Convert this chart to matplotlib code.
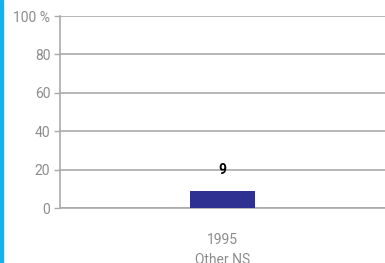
import matplotlib
matplotlib.use("Agg")
import matplotlib.pyplot as plt
from matplotlib.patches import Rectangle

categories = ["1995\nOther NS"]
values = [9]
yticks = [0, 20, 40, 60, 80, 100]
ytick_labels = ["0", "20", "40", "60", "80", "100 %"]

plt.rcParams['font.family'] = ['Liberation Sans Narrow', 'Roboto', 'DejaVu Sans']

grey = "#8c8c8c"
line_grey = "#aaaaaa"

fig = plt.figure(figsize=(3.85, 2.63), dpi=100)
fig.patches.append(Rectangle((0, 0), 3/385, 1, transform=fig.transFigure,
                             color="#12b2ef", zorder=0))
ax = fig.add_axes([60/385, 1 - 208/263, 1 - 60/385, 192/263])

x = list(range(len(categories)))
bars = ax.bar(x, values, width=0.2, color="#2e3192", zorder=3)
for xi, v in zip(x, values):
    ax.annotate(str(v), (xi, v), xytext=(0, 15), textcoords="offset points",
                ha="center", va="center", fontsize=10, fontweight="bold",
                color="black", zorder=4)

ax.set_xlim(-0.5, 0.5)
ax.set_ylim(0, 100)
ax.set_yticks(yticks)
ax.set_yticklabels(ytick_labels)
ax.set_xticks(x)
ax.set_xticklabels(categories, linespacing=1.5)
ax.yaxis.grid(True, color=line_grey, linewidth=1.2, zorder=0)
ax.set_axisbelow(True)

for s in ["top", "right"]:
    ax.spines[s].set_visible(False)
ax.spines["left"].set_color(line_grey)
ax.spines["left"].set_linewidth(1.2)
ax.spines["bottom"].set_color(line_grey)
ax.spines["bottom"].set_linewidth(1.2)

ax.tick_params(axis="y", colors=line_grey, labelcolor=grey, labelsize=10,
               length=4, width=1, pad=3)
ax.tick_params(axis="x", length=0, labelcolor=grey, labelsize=10, pad=18)

fig.savefig("out.png", dpi=100)
